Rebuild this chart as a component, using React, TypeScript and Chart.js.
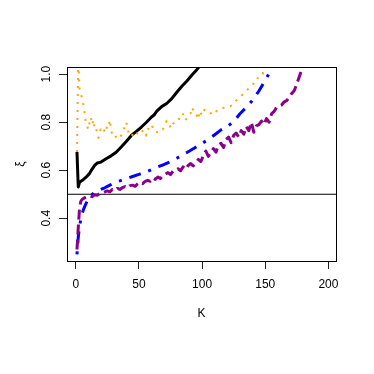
import React, { useEffect, useRef } from "react";
import { Chart, registerables } from "chart.js";

Chart.register(...registerables);

// ---- data ----
const xTickValues = [0, 50, 100, 150, 200];
const yTickValues = [0.4, 0.6, 0.8, 1.0];
const xAxisTitle = "K";
const yAxisTitle = "ξ";
const referenceLevel = 0.5;
const xRange = [-6.9, 206];
const yRange = [0.222, 1.03];

const blackK = [1, 2, 3, 5, 8, 11, 13, 15, 17, 20, 24, 28, 32, 36, 40, 44, 48, 52, 56, 60, 62, 64, 68, 72, 76, 80, 84, 88, 92, 96, 100];
const blackXi = [0.676, 0.53, 0.55, 0.557, 0.57, 0.587, 0.605, 0.62, 0.63, 0.634, 0.648, 0.66, 0.675, 0.697, 0.72, 0.745, 0.762, 0.78, 0.8, 0.822, 0.83, 0.845, 0.865, 0.878, 0.898, 0.925, 0.95, 0.972, 0.997, 1.02, 1.045];

const orangeK = [1, 2, 3, 4, 5, 6, 7, 8, 9, 10, 11, 12, 13, 14, 15, 16, 17, 18, 19, 20, 21, 22, 23, 24, 25, 26, 27, 28, 29, 30, 32, 34, 36, 38, 40, 42, 44, 46, 48, 50, 52, 54, 56, 58, 60, 62, 64, 66, 68, 70, 72, 74, 75, 77, 79, 81, 83, 85, 87, 89, 91, 92, 94, 95, 97, 98, 100, 102, 104, 106, 108, 110, 112, 114, 116, 119, 122, 125, 127, 129, 131, 133, 136, 138, 140, 142, 143, 145, 146, 148, 149, 150];
const orangeXi = [0.676, 1.06, 0.94, 0.92, 0.9, 0.875, 0.84, 0.8, 0.785, 0.77, 0.8, 0.82, 0.79, 0.81, 0.775, 0.78, 0.75, 0.735, 0.765, 0.77, 0.76, 0.755, 0.775, 0.765, 0.79, 0.785, 0.81, 0.77, 0.745, 0.735, 0.74, 0.73, 0.745, 0.77, 0.8, 0.752, 0.74, 0.758, 0.748, 0.765, 0.758, 0.77, 0.744, 0.782, 0.79, 0.762, 0.758, 0.765, 0.762, 0.78, 0.806, 0.798, 0.774, 0.794, 0.8, 0.816, 0.81, 0.834, 0.808, 0.83, 0.838, 0.862, 0.838, 0.838, 0.812, 0.848, 0.828, 0.852, 0.842, 0.836, 0.84, 0.834, 0.852, 0.856, 0.86, 0.858, 0.866, 0.874, 0.89, 0.9, 0.91, 0.92, 0.936, 0.945, 0.954, 0.975, 0.985, 0.982, 0.988, 1.0, 1.025, 1.06];

const blueK = [1, 2, 3, 4, 5, 6, 8, 10, 12, 15, 19, 23, 27, 31, 35, 40, 45, 50, 55, 60, 65, 70, 75, 80, 85, 90, 95, 100, 105, 110, 115, 120, 125, 130, 135, 140, 145, 150, 153, 156, 158];
const blueXi = [0.25, 0.32, 0.365, 0.395, 0.415, 0.435, 0.46, 0.48, 0.495, 0.508, 0.518, 0.527, 0.538, 0.549, 0.556, 0.565, 0.574, 0.583, 0.591, 0.603, 0.614, 0.624, 0.636, 0.65, 0.665, 0.68, 0.696, 0.712, 0.728, 0.748, 0.768, 0.782, 0.803, 0.835, 0.862, 0.892, 0.93, 0.975, 1.003, 1.03, 1.05];

const purpleK = [1, 2, 3, 4, 5, 7, 9, 11, 13, 15, 17, 19, 21, 23, 25, 27, 29, 31, 33, 35, 37, 39, 41, 43, 45, 47, 49, 51, 53, 55, 57, 59, 61, 63, 65, 67, 69, 71, 73, 75, 77, 79, 81, 83, 85, 87, 89, 91, 93, 95, 97, 99, 101, 103, 105, 107, 109, 111, 113, 115, 117, 119, 121, 123, 125, 127, 129, 131, 133, 135, 137, 139, 141, 143, 145, 147, 149, 151, 153, 155, 157, 159, 161, 163, 165, 167, 169, 171, 173, 175, 177, 179, 181];
const purpleXi = [0.27, 0.36, 0.44, 0.47, 0.478, 0.485, 0.49, 0.494, 0.49, 0.498, 0.496, 0.503, 0.506, 0.51, 0.514, 0.51, 0.52, 0.516, 0.525, 0.52, 0.528, 0.532, 0.526, 0.536, 0.538, 0.533, 0.543, 0.55, 0.544, 0.554, 0.558, 0.554, 0.568, 0.562, 0.572, 0.566, 0.578, 0.584, 0.59, 0.582, 0.596, 0.598, 0.606, 0.598, 0.614, 0.604, 0.62, 0.628, 0.618, 0.628, 0.645, 0.636, 0.66, 0.68, 0.658, 0.675, 0.69, 0.675, 0.705, 0.712, 0.695, 0.728, 0.738, 0.715, 0.745, 0.755, 0.738, 0.765, 0.75, 0.782, 0.765, 0.8, 0.758, 0.785, 0.79, 0.805, 0.79, 0.815, 0.8, 0.835, 0.845, 0.862, 0.868, 0.872, 0.885, 0.89, 0.905, 0.92, 0.932, 0.96, 0.99, 1.02, 1.05];

const pairs = (ks: number[], vs: number[]) => ks.map((k, i) => ({ x: k, y: vs[i] }));

const FONT = "'Liberation Sans', Arial, Helvetica, sans-serif";

const boxPlugin = {
  id: "rBox",
  afterDatasetsDraw(chart: any) {
    const { ctx, chartArea: a } = chart;
    ctx.save();
    ctx.strokeStyle = "#000";
    ctx.lineWidth = 1;
    ctx.strokeRect(Math.round(a.left) + 0.5, Math.round(a.top) + 0.5, Math.round(a.right - a.left), Math.round(a.bottom - a.top));
    ctx.restore();
  },
};

export default function App() {
  const ref = useRef<HTMLCanvasElement | null>(null);
  useEffect(() => {
    if (!ref.current) return;
    const common = { pointRadius: 0, tension: 0, fill: false, clip: 0, borderJoinStyle: "round" as const };
    const chart = new Chart(ref.current, {
      type: "line",
      data: {
        datasets: [
          { ...common, label: "purple", data: pairs(purpleK, purpleXi), borderColor: "#8B008B", borderWidth: 3, borderDash: [10, 5], order: 1 },
          { ...common, label: "blue", data: pairs(blueK, blueXi), borderColor: "#0000FF", borderWidth: 3, borderDash: [3, 8, 12, 8], order: 2 },
          { ...common, label: "orange", data: pairs(orangeK, orangeXi), borderColor: "#FFA500", borderWidth: 2, borderDash: [2, 6], order: 3 },
          { ...common, label: "black", data: pairs(blackK, blackXi), borderColor: "#000000", borderWidth: 3, order: 4 },
          { ...common, label: "level", data: [{ x: xRange[0], y: referenceLevel }, { x: xRange[1], y: referenceLevel }], borderColor: "#000000", borderWidth: 1, order: 5 },
        ],
      },
      options: {
        animation: false,
        responsive: false,
        events: [],
        layout: { padding: { left: 0, top: 67, right: 38, bottom: 0 } },
        plugins: { legend: { display: false }, tooltip: { enabled: false } },
        scales: {
          x: {
            type: "linear",
            position: "bottom",
            min: xRange[0],
            max: xRange[1],
            afterBuildTicks: (s: any) => { s.ticks = xTickValues.map((v) => ({ value: v })); },
            afterFit: (s: any) => { s.height = 113; },
            grid: { display: true, drawOnChartArea: false, drawTicks: true, tickLength: 8, color: "#222", lineWidth: 1 },
            border: { display: false },
            ticks: { padding: 8.8, color: "#000", font: { family: FONT, size: 12 }, maxRotation: 0, autoSkip: false },
            title: { display: true, text: xAxisTitle, color: "#000", font: { family: FONT, size: 12 }, padding: { top: 0, bottom: 53.3 } },
          },
          y: {
            type: "linear",
            position: "left",
            min: yRange[0],
            max: yRange[1],
            afterBuildTicks: (s: any) => { s.ticks = yTickValues.map((v) => ({ value: v })); },
            afterFit: (s: any) => { s.width = 67; },
            grid: { display: true, drawOnChartArea: false, drawTicks: true, tickLength: 8, color: "#222", lineWidth: 1 },
            border: { display: false },
            ticks: {
              padding: 3.6,
              color: "#000",
              font: { family: FONT, size: 12 },
              minRotation: 90,
              maxRotation: 90,
              crossAlign: "center",
              autoSkip: false,
              callback: (v: any) => Number(v).toFixed(1),
            },
            title: { display: true, text: yAxisTitle, color: "#000", font: { family: FONT, size: 12 }, padding: { top: 13.6, bottom: 0 } },
          },
        },
      },
      plugins: [boxPlugin],
    });
    return () => chart.destroy();
  }, []);
  return (
    <div style={{ position: "absolute", left: 0, top: 0, width: 374, height: 374, background: "#fff" }}>
      <canvas ref={ref} width={374} height={374} style={{ width: 374, height: 374 }} />
    </div>
  );
}
